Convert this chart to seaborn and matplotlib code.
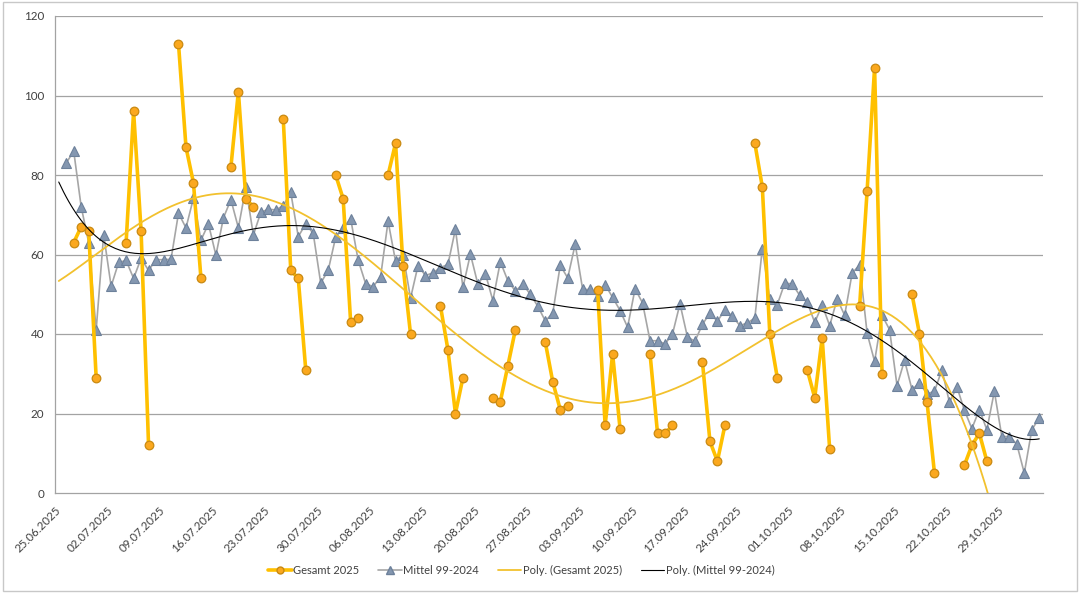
import numpy as np
import pandas as pd
import matplotlib
matplotlib.use("Agg")
import matplotlib.pyplot as plt
import matplotlib.dates as mdates
from matplotlib.lines import Line2D
from matplotlib.patches import Rectangle
import seaborn as sns

# --- DATA ---
axis_start = "2025-06-25"
axis_end = "2025-11-04"

gesamt_dates = [
    "2025-06-27", "2025-06-28", "2025-06-29", "2025-06-30",
    "2025-07-04", "2025-07-05", "2025-07-06", "2025-07-07",
    "2025-07-11", "2025-07-12", "2025-07-13", "2025-07-14",
    "2025-07-18", "2025-07-19", "2025-07-20", "2025-07-21",
    "2025-07-25", "2025-07-26", "2025-07-27", "2025-07-28",
    "2025-08-01", "2025-08-02", "2025-08-03", "2025-08-04",
    "2025-08-08", "2025-08-09", "2025-08-10", "2025-08-11",
    "2025-08-15", "2025-08-16", "2025-08-17", "2025-08-18",
    "2025-08-22", "2025-08-23", "2025-08-24", "2025-08-25",
    "2025-08-29", "2025-08-30", "2025-08-31", "2025-09-01",
    "2025-09-05", "2025-09-06", "2025-09-07", "2025-09-08",
    "2025-09-12", "2025-09-13", "2025-09-14", "2025-09-15",
    "2025-09-19", "2025-09-20", "2025-09-21", "2025-09-22",
    "2025-09-26", "2025-09-27", "2025-09-28", "2025-09-29",
    "2025-10-03", "2025-10-04", "2025-10-05", "2025-10-06",
    "2025-10-10", "2025-10-11", "2025-10-12", "2025-10-13",
    "2025-10-17", "2025-10-18", "2025-10-19", "2025-10-20",
    "2025-10-24", "2025-10-25", "2025-10-26", "2025-10-27",
]
gesamt_values = [
    63, 67, 66, 29,
    63, 96, 66, 12,
    113, 87, 78, 54,
    82, 101, 74, 72,
    94, 56, 54, 31,
    80, 74, 43, 44,
    80, 88, 57, 40,
    47, 36, 20, 29,
    24, 23, 32, 41,
    38, 28, 21, 22,
    51, 17, 35, 16,
    35, 15, 15, 17,
    33, 13, 8, 17,
    88, 77, 40, 29,
    31, 24, 39, 11,
    47, 76, 107, 30,
    50, 40, 23, 5,
    7, 12, 15, 8,
]

mittel_start = "2025-06-26"
mittel_values = [
    83.0, 86.0, 72.0, 63.0, 41.0, 65.0, 52.0, 58.0, 58.5, 54.0,
    59.0, 56.0, 58.7, 58.7, 58.8, 70.4, 66.7, 74.2, 63.6, 67.7,
    59.8, 69.2, 73.8, 66.7, 76.9, 64.9, 70.6, 71.4, 71.2, 72.3,
    75.6, 64.5, 67.7, 65.3, 52.8, 56.0, 64.4, 66.7, 69.0, 58.6,
    52.7, 51.9, 54.4, 68.4, 58.3, 60.0, 49.0, 57.2, 54.7, 55.4,
    56.7, 57.5, 66.4, 51.7, 60.1, 52.5, 55.2, 48.4, 58.2, 53.4,
    50.8, 52.5, 50.0, 47.0, 43.3, 45.2, 57.3, 54.1, 62.6, 51.2,
    51.2, 49.5, 52.4, 49.2, 45.9, 41.7, 51.4, 47.8, 38.3, 38.3,
    37.5, 40.0, 47.6, 39.2, 38.2, 42.4, 45.3, 43.2, 46.1, 44.5,
    42.1, 42.8, 44.0, 61.5, 48.7, 47.4, 52.8, 52.6, 49.7, 48.0,
    42.9, 47.3, 42.1, 48.8, 44.7, 55.3, 57.4, 40.2, 33.1, 44.7,
    41.1, 27.0, 33.4, 26.0, 27.7, 24.9, 25.6, 31.0, 22.8, 26.7,
    20.8, 16.2, 21.0, 15.9, 25.6, 14.2, 14.2, 12.3, 5.0, 15.9,
    18.9,
]

y_ticks = [0, 20, 40, 60, 80, 100, 120]
poly_order = 6

# --- BUILD FRAMES ---
start = pd.Timestamp(axis_start)
half_day = pd.Timedelta(hours=12)

df_g = pd.DataFrame({"date": pd.to_datetime(gesamt_dates), "value": gesamt_values})
df_g["x"] = df_g["date"] + half_day
# consecutive days form one segment (gaps break the line)
df_g["seg"] = (df_g["date"].diff() != pd.Timedelta(days=1)).cumsum()

mittel_dates = pd.date_range(mittel_start, periods=len(mittel_values), freq="D")
df_m = pd.DataFrame({"date": mittel_dates, "value": mittel_values})
df_m["x"] = df_m["date"] + half_day

# polynomial trendlines over the whole category range (like Excel)
n_days = (pd.Timestamp(axis_end) - start).days
day_grid = np.linspace(0, n_days - 1, 400)
trend_x = start + half_day + pd.to_timedelta(day_grid, unit="D")

fit_g = np.polynomial.Polynomial.fit((df_g["date"] - start).dt.days, df_g["value"], poly_order)
fit_m = np.polynomial.Polynomial.fit((df_m["date"] - start).dt.days, df_m["value"], poly_order)
df_trend = pd.DataFrame({"x": trend_x, "g": fit_g(day_grid), "m": fit_m(day_grid)})

# --- PLOT ---
sns.set_style("white")
plt.rcParams["font.family"] = ["Lato", "DejaVu Sans"]

fig = plt.figure(figsize=(10.8, 5.93), dpi=100)
ax = fig.add_axes([55 / 1080, 1 - 493 / 593, (1043 - 55) / 1080, (493 - 16) / 593])

grid_col = "#a3a3a3"
for yv in y_ticks[1:]:
    ax.axhline(yv, color=grid_col, lw=0.9, zorder=0)

gold = "#FFC000"
sns.lineplot(data=df_g, x="x", y="value", units="seg", estimator=None, ax=ax,
             color=gold, lw=2.6, marker="o", markersize=6.2,
             markerfacecolor="#FBA81E", markeredgecolor="#C98A12", markeredgewidth=0.9,
             legend=False, zorder=4)
sns.lineplot(data=df_m, x="x", y="value", ax=ax, color="#A6A6A6", lw=1.2,
             marker="^", markersize=7, markerfacecolor="#8497B0",
             markeredgecolor="#6D819B", markeredgewidth=0.8, legend=False, zorder=3)
sns.lineplot(data=df_trend, x="x", y="g", ax=ax, color="#F2C12E", lw=1.3, legend=False, zorder=5)
sns.lineplot(data=df_trend, x="x", y="m", ax=ax, color="black", lw=0.8, legend=False, zorder=5)

ax.set_xlim(start, pd.Timestamp(axis_end))
ax.set_ylim(0, 120)
ax.set_yticks(y_ticks)
ax.set_xlabel("")
ax.set_ylabel("")

week_ticks = pd.date_range(axis_start, axis_end, freq="7D")
ax.set_xticks(week_ticks)
ax.xaxis.set_major_formatter(mdates.DateFormatter("%d.%m.%Y"))
plt.setp(ax.get_xticklabels(), rotation=45, ha="right", rotation_mode="anchor")

ax.tick_params(axis="both", labelsize=8.4, colors="#404040", length=5,
               width=0.9, direction="out", pad=3)
ax.tick_params(axis="both", color=grid_col)
for side in ["top", "right"]:
    ax.spines[side].set_visible(False)
for side in ["left", "bottom"]:
    ax.spines[side].set_color(grid_col)
    ax.spines[side].set_linewidth(0.9)

# legend (Excel-style, below the chart)
handles = [
    Line2D([], [], color=gold, lw=2.6, marker="o", markersize=5,
           markerfacecolor="#FBA81E", markeredgecolor="#C98A12"),
    Line2D([], [], color="#A6A6A6", lw=1.2, marker="^", markersize=6,
           markerfacecolor="#8497B0", markeredgecolor="#6D819B"),
    Line2D([], [], color="#F2C12E", lw=1.3),
    Line2D([], [], color="black", lw=0.8),
]
labels = ["Gesamt 2025", "Mittel 99-2024", "Poly. (Gesamt 2025)", "Poly. (Mittel 99-2024)"]
fig.legend(handles, labels, loc="center", bbox_to_anchor=(0.483, 1 - 570 / 593),
           ncol=4, frameon=False, fontsize=8.0, handlelength=2.1,
           handletextpad=0.15, columnspacing=1.7, labelcolor="#404040")

# chart area border
fig.patches.append(Rectangle((0.003, 0.004), 0.994, 0.992, transform=fig.transFigure,
                             fill=False, edgecolor="#c8c8c8", lw=1.0))

fig.savefig("out.png", dpi=100)
